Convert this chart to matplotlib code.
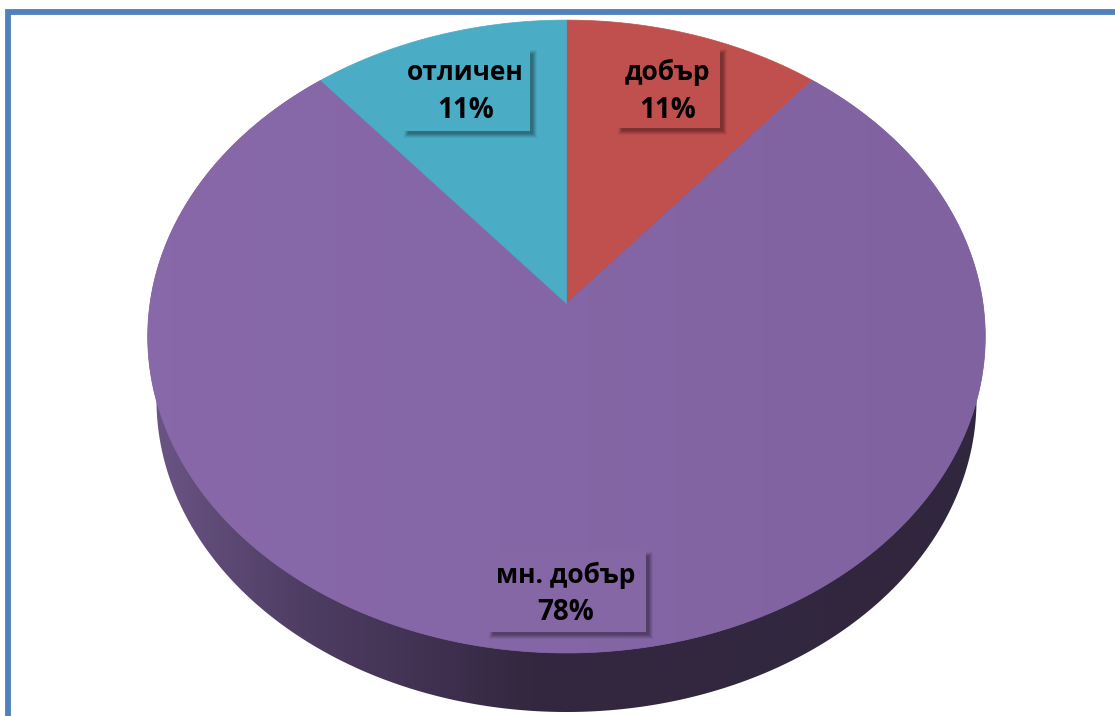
from __future__ import annotations

import matplotlib

matplotlib.use("Agg")
import matplotlib.pyplot as plt
import numpy as np
from matplotlib.colors import LinearSegmentedColormap
from matplotlib.patches import Polygon, Rectangle

categories = ["добър", "мн. добър", "отличен"]
values = [11, 78, 11]
percent_labels = ["11%", "78%", "11%"]
slice_colors = ["#C0504D", "#8263A3", "#4BACC6"]

W, H = 1115, 716
APEX_X, APEX_Y = 566.5, 303.5


def project(angle: np.ndarray) -> tuple[np.ndarray, np.ndarray]:
    # angle clockwise from 12 o'clock, tilted circle -> screen pixels
    u, v = np.sin(angle), np.cos(angle)
    w = 1 + 0.1044 * v
    return APEX_X + 416.5 * u / w, APEX_Y - 313 * v / w


def wedge_points(start: float, end: float) -> np.ndarray:
    t = np.linspace(start, end, 300)
    x, y = project(t)
    return np.column_stack([np.r_[APEX_X, x], np.r_[APEX_Y, y]])


def gradient_fill(ax, clip, stops, zorder):
    cmap = LinearSegmentedColormap.from_list("g", [(p / W, c) for p, c in stops])
    im = ax.imshow(
        np.linspace(0, 1, W)[None, :],
        extent=(0, W, H, 0),
        cmap=cmap,
        vmin=0,
        vmax=1,
        aspect="auto",
        zorder=zorder,
    )
    im.set_clip_path(clip)


def label_box(ax, x0, y0, x1, y1, color, name, pct):
    # soft shadow on the right and bottom
    for grow, alpha in [(3, 0.05), (2, 0.07), (1, 0.09), (0, 0.10), (-1, 0.10)]:
        ax.add_patch(Rectangle((x0 + 4 - grow, y0 + 4 - grow), x1 - x0 + 2 * grow, y1 - y0 + 2 * grow,
                               facecolor="black", edgecolor="none", alpha=alpha, zorder=5))
    ax.add_patch(Rectangle((x0, y0), x1 - x0, y1 - y0, facecolor=color, edgecolor="none", zorder=6))
    cx = (x0 + x1) / 2
    ax.text(cx - 1, y0 + 24, name, ha="center", va="center", fontsize=19, fontweight="bold",
            family="Open Sans", color="black", zorder=7)
    ax.text(cx - 1, y0 + 62, pct, ha="center", va="center", fontsize=20, fontweight="bold",
            family="Open Sans", color="black", zorder=7)


def main() -> None:
    fig = plt.figure(figsize=(W / 100, H / 100), dpi=100)
    ax = fig.add_axes([0, 0, 1, 1])
    ax.set_xlim(0, W)
    ax.set_ylim(H, 0)
    ax.axis("off")

    # side wall of the disc
    t = np.linspace(0, 2 * np.pi, 500)
    wall = Polygon(np.column_stack([566.5 + 410 * np.sin(t), 400 - 312 * np.cos(t)]),
                   closed=True, transform=ax.transData, facecolor="none", edgecolor="none")
    ax.add_patch(wall)
    gradient_fill(ax, wall, [(0, "#6E5789"), (155, "#6A5484"), (300, "#4F3D63"), (450, "#3E2F4E"),
                             (530, "#33283F"), (W, "#30263D")], zorder=1)

    # top face, slices clockwise from 12 o'clock
    edges = np.r_[0, np.cumsum(values)] / np.sum(values) * 2 * np.pi
    for i, color in enumerate(slice_colors):
        poly = Polygon(wedge_points(edges[i], edges[i + 1]), closed=True, facecolor=color,
                       edgecolor=color, lw=0.5, zorder=2)
        ax.add_patch(poly)
        if categories[i] == "мн. добър":
            gradient_fill(ax, poly, [(0, "#8969AA"), (500, "#8566A6"), (W, "#7F619F")], zorder=2)

    label_box(ax, 617, 48, 720, 128, slice_colors[0], categories[0], percent_labels[0])
    label_box(ax, 488, 551, 646, 632, "#8567A6", categories[1], percent_labels[1])
    label_box(ax, 403, 49, 530, 131, slice_colors[2], categories[2], percent_labels[2])

    # chart frame, only top and left are inside the crop
    ax.plot([8, 8, W], [H, 11.7, 11.7], color="#4F81BD", lw=4.2, solid_joinstyle="miter", zorder=8)

    ax.set_xlim(0, W)
    ax.set_ylim(H, 0)
    fig.savefig("out.png", dpi=100)


if __name__ == "__main__":
    main()
